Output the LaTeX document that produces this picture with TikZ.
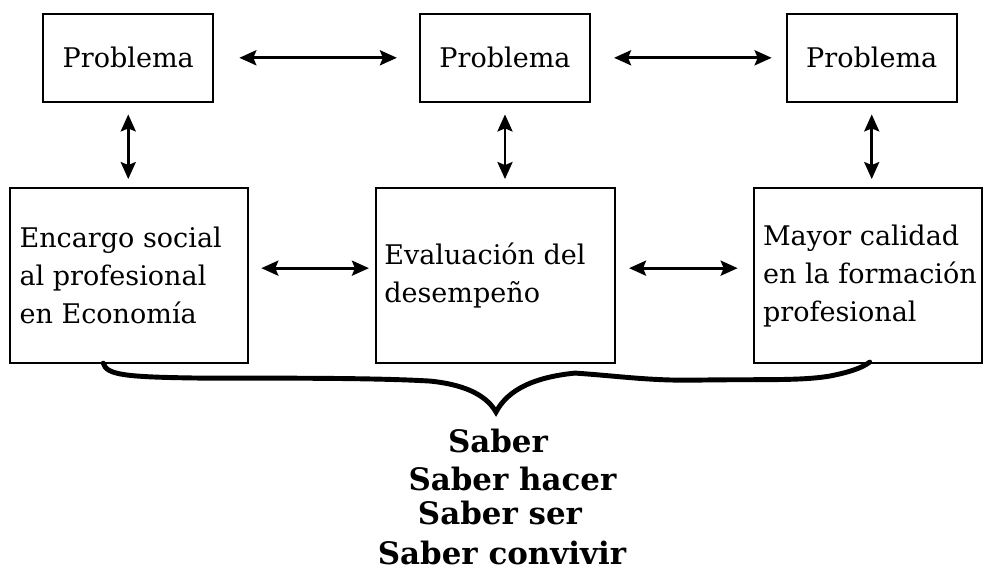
\documentclass[tikz,border=0pt]{standalone}
\usepackage{fontspec}
\setmainfont{DejaVu Serif}
\usepackage{tikz}
\usetikzlibrary{calc}
\usetikzlibrary{positioning}
\usetikzlibrary{arrows.meta}

\begin{document}
\begin{tikzpicture}[
  caja/.style={draw, line width=1.3pt, minimum width=3.4cm, minimum height=1.76cm, inner sep=0pt, font=\fontsize{15.4pt}{21.6pt}\selectfont},
  cuadro/.style={draw, line width=1.3pt, minimum height=3.5cm, inner sep=0pt},
  texto/.style={align=left, inner sep=0pt, font=\fontsize{15.4pt}{21.6pt}\selectfont},
  flecha/.style={{Stealth[length=0.34cm,width=0.3cm,inset=0.06cm]}-{Stealth[length=0.34cm,width=0.3cm,inset=0.06cm]}, line width=1.7pt},
  saber/.style={anchor=base, inner sep=0pt, font=\fontsize{17.6pt}{21pt}\selectfont\bfseries}
]
\draw[opacity=0] (0,0) rectangle (19.68,11.4);

% fila de arriba
\node[caja] (p1) at (2.56,10.25) {Problema};
\node[caja] (p2) at (10.1,10.25) {Problema};
\node[caja] (p3) at (17.44,10.25) {Problema};

% fila de abajo
\node[cuadro, minimum width=4.76cm] (e1) at (2.58,5.89) {};
\node[cuadro, minimum width=4.78cm] (e2) at (9.91,5.89) {};
\node[cuadro, minimum width=4.56cm] (e3) at (17.36,5.89) {};
\node[texto, right=0.2cm of e1.west] (t1) {Encargo social\\al profesional\\en Economía};
\node[texto, right=0.18cm of e2.west] (t2) {Evaluación del\\desempeño};
\node[texto, right=0.2cm of e3.west] (t3) {Mayor calidad\\en la formación\\profesional};

\draw[flecha, shorten <=0.5cm, shorten >=0.44cm] (p1.east) -- (p2.west);
\draw[flecha, shorten <=0.46cm, shorten >=0.28cm] (p2.east) -- (p3.west);

\draw[flecha, shorten <=0.23cm, shorten >=0.16cm] (p1.south) -- (p1.south |- e1.north);
\draw[flecha, shorten <=0.23cm, shorten >=0.16cm] (p2.south) -- (p2.south |- e2.north);
\draw[flecha, shorten <=0.23cm, shorten >=0.16cm] (p3.south) -- (p3.south |- e3.north);

\draw[flecha, shorten <=0.24cm, shorten >=0.12cm] ([yshift=0.15cm]e1.east) -- ([yshift=0.15cm]e1.east -| e2.west);
\draw[flecha, shorten <=0.26cm, shorten >=0.3cm] ([yshift=0.15cm]e2.east) -- ([yshift=0.15cm]e2.east -| e3.west);

% llave
\draw[line width=2.8pt, line cap=round] (2.06,4.14)
  .. controls (2.12,3.90) and (2.5,3.86) .. (4.0,3.84)
  .. controls (6.0,3.84) and (7.6,3.84) .. (8.6,3.78)
  .. controls (9.4,3.70) and (9.76,3.44) .. (9.92,3.16)
  .. controls (10.1,3.5) and (10.5,3.84) .. (11.5,3.94)
  .. controls (12.4,3.88) and (13.0,3.78) .. (14.0,3.80)
  .. controls (15.2,3.82) and (16.0,3.78) .. (16.6,3.88)
  .. controls (17.0,3.96) and (17.24,4.04) .. (17.4,4.16);

\node[saber] (s1) at (9.96,2.36) {Saber};
\node[saber] (s2) at (10.25,1.6) {Saber hacer};
\node[saber] (s3) at (10.0,0.9) {Saber ser};
\node[saber] (s4) at (10.04,0.1) {Saber convivir};

\end{tikzpicture}
\end{document}
